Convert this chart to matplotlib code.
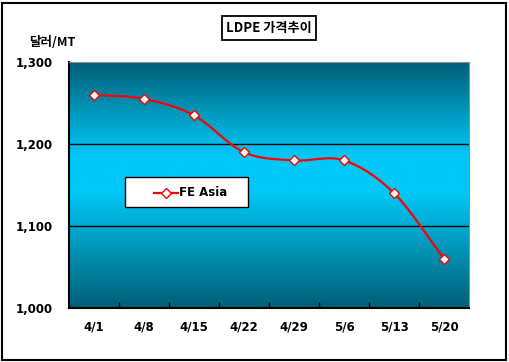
import numpy as np
import matplotlib
matplotlib.use("Agg")
import matplotlib.pyplot as plt
from matplotlib.colors import LinearSegmentedColormap
from matplotlib.patches import Rectangle
from matplotlib.lines import Line2D

plt.rcParams['font.family'] = ['Noto Sans CJK KR', 'DejaVu Sans']

categories = ["4/1", "4/8", "4/15", "4/22", "4/29", "5/6", "5/13", "5/20"]
fe_asia = [1260, 1255, 1235, 1190, 1180, 1180, 1140, 1060]
yticks = [1000, 1100, 1200, 1300]
ytick_labels = ["1,000", "1,100", "1,200", "1,300"]

fig = plt.figure(figsize=(5.09, 3.62), dpi=100)
fig.patch.set_facecolor("white")
# outer border
fig.add_artist(Rectangle((0.004, 0.006), 0.99, 0.985, transform=fig.transFigure,
                         fill=False, edgecolor="black", linewidth=1.5))

W, H = 509, 362
x0, x1, y0, y1 = 69, 469, 62, 308
ax = fig.add_axes([x0 / W, 1 - y1 / H, (x1 - x0) / W, (y1 - y0) / H])

n = len(categories)
ax.set_xlim(0, n)

# gradient background
cmap = LinearSegmentedColormap.from_list(
    "g", [(0.0, "#005f76"), (0.47, "#00c8f8"), (0.62, "#00c8f8"), (1.0, "#005f78")])
grad = np.linspace(0, 1, 256).reshape(-1, 1)
ax.imshow(grad, cmap=cmap, aspect="auto", extent=[0, n, 1300, 1000], zorder=0)
ax.set_ylim(1000, 1300)

for yv in [1100, 1200]:
    ax.axhline(yv, color="black", linewidth=1.0, zorder=1)

xs = np.arange(n) + 0.5
ys = np.array(fe_asia, dtype=float)

# Catmull-Rom smoothing (drawing only)
def catmull(xp, yp, steps=30):
    px = np.concatenate([[2 * xp[0] - xp[1]], xp, [2 * xp[-1] - xp[-2]]])
    py = np.concatenate([[2 * yp[0] - yp[1]], yp, [2 * yp[-1] - yp[-2]]])
    outx, outy = [], []
    for i in range(1, len(px) - 2):
        t = np.linspace(0, 1, steps)
        for arr, out in ((px, outx), (py, outy)):
            p0, p1, p2, p3 = arr[i - 1], arr[i], arr[i + 1], arr[i + 2]
            out.extend(0.5 * ((2 * p1) + (-p0 + p2) * t + (2 * p0 - 5 * p1 + 4 * p2 - p3) * t ** 2
                              + (-p0 + 3 * p1 - 3 * p2 + p3) * t ** 3))
    return np.array(outx), np.array(outy)

sx, sy = catmull(xs, ys)
ax.plot(sx, sy, color="#ff0000", linewidth=1.6, zorder=3)
ax.plot(xs, ys, linestyle="none", marker="D", markersize=5.5, markerfacecolor="white",
        markeredgecolor="#ff0000", markeredgewidth=1.0, zorder=4)

# axes styling
ax.set_yticks(yticks)
ax.set_yticklabels(ytick_labels, fontsize=8.5, fontweight="bold", family="DejaVu Sans")
ax.tick_params(axis="y", length=0, pad=12)
ax.set_xticks(np.arange(1, n))
ax.set_xticklabels([])
ax.tick_params(axis="x", length=4, direction="in", width=1)
for i, c in enumerate(categories):
    ax.text(xs[i], 1000 - 300 * (19 / 246), c, ha="center", va="center",
            fontsize=8.5, fontweight="bold", family="DejaVu Sans")
ax.spines["left"].set_color("black")
ax.spines["left"].set_linewidth(1.5)
ax.spines["bottom"].set_color("black")
ax.spines["bottom"].set_linewidth(1.5)
ax.spines["top"].set_color("#909090")
ax.spines["right"].set_color("#909090")

# legend box
lx0, lx1, ly0, ly1 = 125, 248, 177, 207
fig.add_artist(Rectangle((lx0 / W, 1 - ly1 / H), (lx1 - lx0) / W, (ly1 - ly0) / H,
                         transform=fig.transFigure, facecolor="white", edgecolor="black",
                         linewidth=1.0, zorder=5))
fig.add_artist(Line2D([154 / W, 178 / W], [1 - 193 / H, 1 - 193 / H], transform=fig.transFigure,
                      color="#ff0000", linewidth=1.6, zorder=6))
fig.add_artist(Line2D([166 / W], [1 - 193 / H], transform=fig.transFigure, marker="D",
                      markersize=5, markerfacecolor="white", markeredgecolor="#ff0000",
                      linestyle="none", zorder=7))
fig.text(179 / W, 1 - 193 / H, "FE Asia", ha="left", va="center", fontsize=8.5,
         fontweight="bold", family="DejaVu Sans", zorder=7)

# title box
fig.text(269 / W, 1 - 28 / H, "LDPE 가격추이", ha="center", va="center", fontsize=9.5,
         fontweight="bold",
         bbox=dict(boxstyle="square,pad=0.35", facecolor="white", edgecolor="black", linewidth=1.3))
fig.text(52 / W, 1 - 43 / H, "달러/MT", ha="center", va="center", fontsize=9, fontweight="bold")

fig.savefig("out.png", dpi=100)
